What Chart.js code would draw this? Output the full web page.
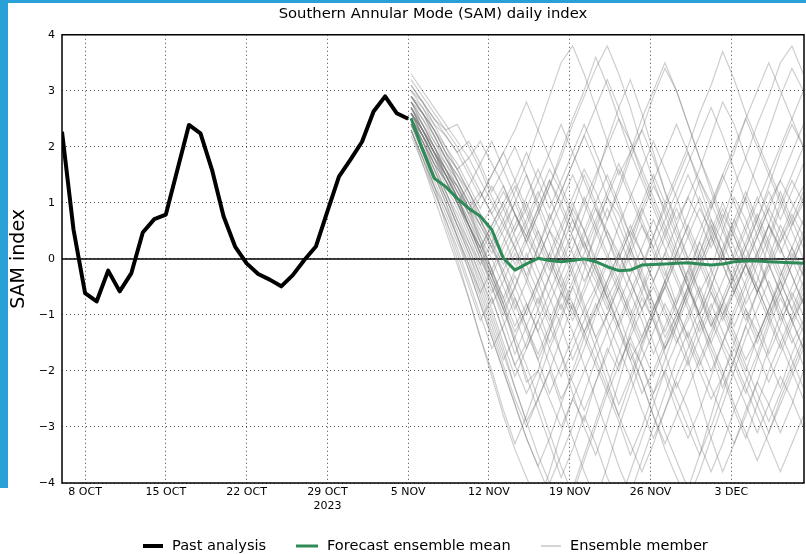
<!DOCTYPE html>
<html>
<head>
<meta charset="utf-8">
<title>SAM daily index</title>
<script src="https://cdn.jsdelivr.net/npm/chart.js@4.4.0/dist/chart.umd.min.js"></script>
<style>
    body { margin: 0; background: #fff; }
    canvas { display: block; }
</style>
</head>
<body>
<canvas id="sam-chart" width="806" height="554"></canvas>
<script>
// x values are days since 6 Oct 2023
const tickDays = [2, 9, 16, 23, 30, 37, 44, 51, 58];
const tickLabels = ['8 OCT', '15 OCT', '22 OCT', ['29 OCT', '2023'], '5 NOV', '12 NOV', '19 NOV', '26 NOV', '3 DEC'];

const pastStart = 0;
const pastValues = [2.27, 0.52, -0.61, -0.76, -0.21, -0.58, -0.26, 0.47, 0.71, 0.79, 1.59, 2.39, 2.24, 1.59, 0.76, 0.22,
    -0.08, -0.27, -0.37, -0.49, -0.29, -0.02, 0.22, 0.85, 1.47, 1.77, 2.09, 2.63, 2.9, 2.6, 2.5];

const forecastStart = 30.25;
const meanValues = [2.51, 1.95, 1.44, 1.29, 1.08, 0.9, 0.76, 0.52, 0.01, -0.2, -0.09, 0.01, -0.03, -0.05, -0.03, 0.0,
    -0.05, -0.14, -0.21, -0.2, -0.11, -0.1, -0.09, -0.08, -0.07, -0.09, -0.11, -0.09, -0.05, -0.04, -0.04, -0.05,
    -0.06, -0.07, -0.08];

const ensembleMembers = [
    [2.6, 2.3, 2.0, 1.6, 1.2, 0.9, 0.4, -0.2, -0.8, -1.5, -2.2, -2.0, -1.3, -0.6, -0.9, -0.2, 0.5, 1.1, 0.8, 0.2, -0.4, -1.0, -1.6, -1.2, -0.5, 0.1, 0.7, 0.3, -0.2, -0.8, -0.4, 0.3, 0.9, 1.4, 1.0],
    [2.9, 2.7, 2.4, 2.2, 1.9, 2.1, 1.7, 1.2, 1.6, 2.0, 1.5, 0.9, 0.3, -0.3, 0.2, 0.8, 1.4, 2.1, 2.7, 3.2, 2.6, 1.9, 1.2, 0.6, 0.0, -0.6, -0.2, 0.5, 1.1, 0.7, 0.1, -0.5, -1.1, -0.7, -0.2],
    [2.4, 1.9, 1.3, 0.6, 0.0, -0.7, -1.4, -2.1, -2.8, -3.4, -3.9, -4.4, -3.8, -3.1, -2.5, -2.9, -2.2, -1.6, -2.0, -1.3, -0.7, -1.1, -1.7, -2.3, -1.8, -1.2, -0.6, -1.0, -1.5, -2.0, -1.4, -0.9, -0.3, 0.2, -0.2],
    [3.1, 2.8, 2.5, 2.3, 2.4, 2.0, 1.6, 1.1, 0.7, 1.2, 1.7, 2.3, 2.9, 3.5, 3.8, 3.3, 2.7, 2.1, 1.5, 1.9, 2.3, 1.8, 1.2, 0.7, 1.1, 1.6, 2.2, 2.8, 2.4, 1.8, 1.3, 0.8, 0.3, 0.7, 1.2],
    [2.5, 2.1, 1.7, 1.4, 1.0, 0.6, 0.2, -0.3, -0.9, -0.5, 0.1, -0.4, -1.0, -1.7, -2.4, -3.0, -3.5, -2.9, -2.2, -1.5, -1.9, -2.5, -3.1, -3.6, -4.1, -3.5, -2.8, -2.1, -1.5, -0.9, -1.3, -1.8, -2.3, -1.7, -1.2],
    [2.7, 2.4, 2.1, 1.8, 1.5, 1.2, 0.8, 0.5, 0.9, 1.3, 0.8, 0.3, -0.2, 0.3, 0.9, 0.5, -0.1, -0.7, -0.3, 0.2, 0.8, 1.3, 0.9, 0.4, -0.1, -0.6, -1.2, -0.8, -0.3, 0.2, 0.7, 1.3, 1.9, 2.4, 2.0],
    [2.3, 1.8, 1.2, 0.7, 0.1, -0.5, -1.1, -0.7, -1.3, -1.9, -1.5, -0.9, -0.3, 0.3, -0.2, -0.8, -1.4, -1.0, -0.5, 0.1, 0.6, 0.2, -0.3, 0.3, 0.8, 1.4, 1.0, 0.5, 0.0, -0.5, -1.1, -1.7, -1.2, -0.6, -1.0],
    [2.8, 2.6, 2.3, 1.9, 1.6, 1.8, 2.1, 1.7, 1.3, 0.8, 0.3, 0.8, 1.3, 1.9, 2.5, 3.0, 3.6, 3.1, 2.5, 1.9, 1.4, 0.9, 0.4, -0.1, 0.4, 0.9, 0.5, 0.0, 0.5, 1.1, 1.7, 2.3, 2.9, 3.4, 3.0],
    [2.5, 2.0, 1.5, 1.1, 0.6, 0.1, -0.4, -1.0, -1.6, -2.3, -2.9, -2.5, -2.0, -2.6, -3.2, -3.8, -4.3, -3.7, -3.0, -2.4, -1.8, -1.3, -0.8, -1.2, -1.8, -2.5, -3.2, -3.8, -3.3, -2.7, -2.2, -2.6, -3.1, -2.6, -2.0],
    [2.6, 2.2, 1.8, 1.5, 1.3, 0.9, 0.6, 0.9, 1.3, 0.8, 0.4, 0.0, 0.5, 0.2, -0.3, -0.9, -0.5, 0.0, 0.6, 1.1, 1.6, 2.1, 1.6, 1.1, 0.5, 0.0, -0.5, -1.0, -0.6, -0.1, -0.5, -1.0, -0.6, -0.1, 0.4],
    [3.0, 2.7, 2.3, 1.9, 1.4, 0.9, 0.3, -0.3, 0.2, 0.6, 1.1, 1.6, 1.1, 0.6, 0.1, -0.4, 0.0, 0.5, 0.1, -0.4, -0.9, -1.5, -2.1, -2.7, -3.2, -2.7, -2.1, -1.5, -1.9, -2.4, -1.8, -1.2, -0.7, -1.1, -1.6],
    [2.4, 2.0, 1.5, 1.0, 0.5, 0.0, -0.6, -1.2, -1.8, -1.4, -0.9, -0.4, 0.1, 0.6, 1.1, 1.6, 1.2, 0.7, 1.2, 1.8, 2.3, 2.9, 3.4, 3.0, 2.4, 1.8, 1.3, 0.7, 0.2, -0.3, 0.1, 0.6, 0.2, -0.3, -0.8],
    [2.7, 2.3, 1.9, 1.5, 1.1, 0.7, 0.3, -0.2, -0.7, -1.2, -0.8, -1.3, -1.9, -2.5, -2.1, -1.6, -1.0, -0.5, -1.0, -1.6, -2.2, -2.8, -3.4, -3.9, -4.3, -3.8, -3.2, -2.6, -2.0, -1.4, -0.9, -0.4, -0.9, -1.4, -1.9],
    [2.9, 2.6, 2.3, 2.0, 1.7, 1.3, 0.9, 1.3, 0.9, 0.4, -0.1, -0.6, -1.1, -0.6, -0.1, 0.4, 0.9, 0.5, 0.0, 0.5, 0.1, -0.4, 0.1, 0.6, 1.1, 0.7, 0.2, 0.7, 1.3, 1.8, 2.4, 2.9, 3.5, 3.8, 3.3],
    [2.5, 2.1, 1.6, 1.1, 0.6, 0.2, -0.3, -0.8, -0.4, 0.1, -0.4, -0.9, -1.5, -1.0, -0.5, -1.0, -1.6, -2.2, -2.8, -3.3, -3.8, -3.3, -2.7, -2.1, -1.6, -1.1, -1.6, -2.1, -2.7, -3.2, -2.6, -2.0, -1.5, -1.0, -0.5],
    [2.6, 2.2, 1.9, 1.6, 1.2, 0.8, 1.1, 1.5, 1.9, 2.3, 2.8, 2.3, 1.8, 1.3, 0.8, 0.3, -0.2, -0.7, -1.2, -0.7, -0.2, 0.4, 1.0, 1.5, 2.0, 2.6, 3.1, 3.7, 3.2, 2.6, 2.1, 1.6, 1.1, 0.6, 1.0],
    [2.3, 1.7, 1.1, 0.5, -0.1, -0.7, -1.4, -2.0, -2.7, -3.3, -2.8, -2.2, -1.6, -1.1, -0.5, 0.0, -0.4, -0.9, -0.4, 0.2, -0.3, -0.8, -1.3, -0.8, -0.2, 0.3, -0.2, -0.7, -1.2, -0.7, -0.1, 0.4, 1.0, 0.5, 0.0],
    [2.8, 2.5, 2.2, 1.8, 1.5, 1.1, 0.7, 0.3, -0.1, 0.3, 0.7, 1.2, 0.7, 1.2, 1.7, 2.2, 1.7, 1.1, 0.6, 0.1, -0.4, -0.9, -0.5, 0.0, -0.5, -1.0, -1.5, -2.0, -2.6, -3.1, -3.6, -3.1, -2.5, -2.0, -1.5],
    [2.6, 2.3, 1.9, 1.4, 1.0, 0.5, 0.0, -0.4, -0.9, -1.4, -1.9, -2.5, -3.1, -3.7, -4.2, -3.6, -3.0, -2.4, -2.9, -3.5, -3.0, -2.4, -1.8, -1.2, -0.7, -0.2, 0.3, 0.8, 0.4, -0.1, -0.6, -0.2, 0.3, 0.8, 0.4],
    [3.2, 2.9, 2.6, 2.3, 2.0, 1.6, 1.2, 0.8, 1.2, 0.8, 0.4, 0.9, 1.4, 1.0, 0.5, 1.0, 1.5, 2.0, 2.5, 2.1, 1.6, 1.1, 0.6, 0.1, -0.4, 0.1, 0.6, 0.1, -0.4, -0.9, -1.4, -0.9, -0.4, 0.1, -0.3],
    [2.4, 1.9, 1.4, 0.9, 0.4, -0.1, -0.6, -0.2, 0.3, 0.8, 0.3, -0.2, -0.7, -1.2, -1.8, -1.3, -0.8, -1.3, -1.9, -1.4, -0.9, -0.4, 0.1, -0.4, -0.9, -1.5, -2.0, -1.5, -0.9, -0.4, 0.1, 0.6, 0.2, -0.3, -0.8],
    [2.7, 2.4, 2.0, 1.6, 1.2, 0.8, 0.4, 0.0, -0.5, -1.0, -1.6, -1.1, -0.6, -0.1, 0.4, -0.1, -0.6, -1.1, -1.6, -2.1, -2.7, -3.2, -2.7, -2.2, -2.7, -3.3, -3.8, -3.3, -2.7, -2.2, -1.7, -1.1, -0.6, -0.1, 0.4],
    [2.5, 2.2, 1.8, 1.5, 1.1, 0.7, 0.2, 0.6, 1.0, 0.5, 0.9, 1.4, 1.9, 2.4, 1.9, 1.4, 0.9, 0.4, -0.1, -0.6, -0.1, 0.4, 0.9, 1.4, 1.9, 1.4, 0.9, 1.4, 1.9, 2.5, 2.0, 1.5, 1.0, 1.5, 2.0],
    [2.8, 2.4, 2.0, 1.6, 1.1, 0.6, 0.1, -0.5, -1.1, -1.7, -1.2, -0.7, -1.2, -1.7, -2.2, -2.7, -2.2, -1.7, -1.1, -0.6, -1.1, -1.7, -1.2, -0.7, -0.2, -0.7, -1.2, -0.7, -0.2, 0.3, 0.8, 0.3, -0.2, -0.7, -1.2],
    [2.6, 2.2, 1.8, 1.4, 1.0, 1.3, 1.7, 2.1, 1.6, 1.1, 0.6, 0.1, -0.4, -0.9, -0.4, 0.1, 0.6, 0.1, -0.4, -0.9, -1.4, -0.9, -0.4, -0.9, -1.4, -0.9, -0.3, 0.2, 0.7, 0.2, -0.3, -0.8, -1.3, -1.8, -2.3],
    [2.3, 1.8, 1.3, 0.8, 0.3, -0.2, -0.8, -1.4, -2.0, -2.6, -3.2, -3.7, -3.2, -2.6, -2.0, -1.4, -0.9, -0.4, 0.1, -0.4, -0.9, -0.5, -1.0, -1.5, -1.1, -0.6, -1.1, -1.6, -2.1, -2.6, -3.1, -2.6, -2.1, -2.5, -3.0],
    [3.3, 3.0, 2.7, 2.4, 2.1, 1.8, 1.4, 1.0, 0.6, 0.2, 0.6, 1.1, 1.6, 1.2, 0.7, 0.2, -0.3, -0.8, -1.3, -1.8, -1.4, -0.9, -0.4, 0.1, 0.6, 1.1, 0.6, 0.1, -0.4, 0.0, 0.5, 1.0, 1.4, 1.0, 0.6],
    [2.5, 2.1, 1.7, 1.2, 0.8, 0.3, -0.1, -0.6, -0.2, -0.7, -1.2, -1.8, -2.4, -1.9, -1.4, -0.9, -1.4, -2.0, -2.6, -2.1, -1.5, -1.0, -0.5, -1.0, -1.5, -2.0, -2.5, -2.1, -1.6, -2.1, -2.6, -3.1, -2.6, -2.1, -1.6],
    [2.7, 2.3, 1.9, 1.6, 1.3, 0.9, 0.5, 0.1, 0.5, 1.0, 1.5, 1.0, 0.5, 0.0, 0.5, 1.1, 0.6, 1.1, 1.6, 1.1, 0.6, 0.1, -0.4, -0.9, -1.4, -1.9, -1.4, -0.8, -0.3, 0.2, 0.7, 1.2, 0.7, 1.2, 1.7],
    [2.4, 2.0, 1.5, 1.0, 0.4, -0.2, -0.8, -1.4, -2.0, -2.6, -3.2, -3.7, -4.2, -4.6, -4.1, -3.5, -2.9, -2.3, -1.7, -1.1, -0.6, -1.1, -1.6, -1.1, -0.6, -0.1, 0.4, -0.1, -0.6, -1.1, -0.6, -0.1, -0.6, -1.1, -0.7],
    [2.9, 2.6, 2.2, 1.8, 1.4, 1.0, 0.6, 0.2, -0.2, 0.2, -0.3, 0.2, 0.7, 1.2, 1.7, 2.2, 2.7, 3.2, 2.7, 2.1, 1.5, 1.0, 0.5, 1.0, 1.5, 1.0, 0.4, -0.1, -0.6, -0.1, 0.4, 0.9, 1.4, 1.9, 2.4],
    [2.6, 2.3, 1.9, 1.5, 1.1, 0.6, 0.1, -0.3, -0.8, -1.3, -0.9, -0.4, 0.1, -0.4, -0.9, -1.4, -1.9, -2.4, -1.9, -1.4, -1.9, -2.4, -2.0, -1.5, -1.0, -0.5, -1.0, -1.5, -1.0, -0.5, 0.0, -0.5, -1.0, -1.5, -1.1],
    [2.5, 2.2, 1.8, 1.3, 0.9, 0.4, -0.1, 0.3, -0.3, -0.9, -0.4, 0.2, 0.8, 0.3, 0.9, 1.5, 1.0, 0.4, -0.2, 0.3, 0.9, 0.4, -0.2, -0.8, -0.3, 0.3, 0.9, 1.5, 1.0, 0.5, 0.0, 0.6, 1.2, 0.7, 0.2],
    [2.8, 2.5, 2.1, 1.7, 1.3, 0.8, 0.3, -0.2, -0.7, -0.2, 0.3, 0.8, 1.3, 1.8, 2.4, 2.9, 3.4, 3.8, 3.3, 2.7, 2.0, 1.4, 0.8, 0.2, -0.4, -1.0, -0.5, 0.1, 0.7, 1.2, 0.7, 0.2, -0.3, 0.2, 0.7],
    [2.2, 1.7, 1.2, 0.7, 0.2, -0.4, -1.0, -1.6, -1.2, -0.7, -1.2, -1.7, -1.2, -0.7, -0.2, 0.3, -0.2, -0.7, -1.2, -1.7, -2.2, -2.8, -3.3, -2.8, -2.3, -1.8, -1.3, -0.8, -1.3, -1.8, -1.4, -0.9, -0.4, -0.9, -1.3],
    [2.6, 2.3, 2.0, 1.7, 1.4, 1.0, 0.7, 0.3, 0.7, 0.2, -0.3, -0.8, -0.3, 0.2, 0.7, 0.2, 0.7, 1.2, 1.7, 1.2, 0.7, 0.2, 0.7, 1.2, 1.7, 2.2, 2.7, 2.2, 1.6, 1.0, 0.4, -0.1, 0.4, 0.9, 1.3],
    [2.4, 2.0, 1.6, 1.1, 0.6, 0.1, -0.5, -1.1, -1.7, -2.3, -2.9, -3.5, -4.0, -3.5, -3.0, -2.4, -1.8, -2.3, -2.8, -2.2, -1.6, -1.0, -0.5, 0.0, -0.5, -1.0, -0.5, 0.1, 0.6, 1.1, 0.6, 0.1, -0.4, -0.9, -0.4],
    [3.0, 2.8, 2.5, 2.2, 1.9, 1.5, 1.1, 1.5, 1.9, 1.4, 0.9, 0.4, -0.1, -0.6, -1.1, -0.6, -0.1, -0.6, -1.2, -1.8, -2.4, -2.0, -1.5, -1.0, -0.5, 0.0, 0.5, 1.0, 0.5, 0.0, -0.5, -1.0, -1.5, -2.0, -2.5],
    [2.7, 2.3, 1.9, 1.5, 1.0, 0.5, 0.0, -0.5, -1.0, -0.5, 0.0, 0.5, 0.0, -0.5, -1.0, -0.5, 0.1, 0.7, 1.3, 1.9, 2.5, 3.0, 3.5, 3.0, 2.4, 1.8, 1.2, 0.6, 0.0, 0.5, 1.0, 1.5, 2.0, 2.5, 3.0],
    [2.5, 2.1, 1.6, 1.2, 0.7, 0.3, -0.2, -0.7, -1.3, -1.9, -2.4, -2.0, -2.5, -3.0, -2.5, -2.0, -1.5, -1.0, -0.5, -1.0, -1.5, -1.0, -0.4, 0.1, 0.6, 0.1, -0.4, -0.9, -1.4, -1.9, -2.4, -2.9, -2.4, -1.9, -1.4],
    [2.9, 2.6, 2.3, 1.9, 1.6, 1.2, 0.8, 0.4, 0.0, 0.5, 1.0, 0.5, 0.0, -0.5, 0.0, 0.5, 1.0, 1.5, 1.0, 0.4, -0.2, -0.8, -1.4, -1.0, -0.5, -1.1, -1.7, -2.3, -1.8, -1.2, -0.6, 0.0, 0.6, 0.2, -0.3],
    [2.3, 1.8, 1.3, 0.9, 0.4, -0.1, -0.7, -1.3, -1.9, -2.5, -3.0, -2.5, -2.0, -1.4, -0.8, -1.3, -1.8, -1.3, -0.8, -0.3, 0.2, 0.7, 0.2, -0.3, -0.8, -1.3, -0.8, -1.3, -1.8, -2.3, -2.8, -3.3, -3.8, -3.3, -2.8],
    [2.6, 2.3, 1.9, 1.6, 1.3, 0.9, 1.2, 0.8, 0.4, -0.1, 0.4, 0.9, 1.4, 0.9, 0.4, -0.1, 0.4, 0.9, 0.4, -0.1, -0.6, -0.1, 0.4, 0.9, 0.4, -0.1, -0.6, -1.1, -0.6, -0.1, -0.6, -1.1, -1.6, -1.1, -0.6],
    [2.8, 2.4, 2.0, 1.5, 1.1, 0.6, 0.1, -0.4, -0.9, -1.5, -2.1, -2.7, -3.3, -3.9, -3.4, -2.8, -3.3, -3.9, -4.4, -3.8, -3.2, -2.6, -2.0, -2.5, -3.0, -3.5, -3.0, -2.4, -1.8, -1.2, -1.7, -2.2, -1.7, -1.2, -0.7],
    [2.4, 2.1, 1.7, 1.4, 1.0, 0.6, 0.2, 0.6, 1.0, 1.4, 1.9, 1.4, 0.9, 1.4, 1.9, 2.4, 1.9, 1.4, 0.9, 0.4, 0.9, 1.4, 1.9, 2.4, 1.9, 1.3, 0.7, 0.1, -0.5, -0.1, 0.4, 0.9, 0.5, 0.0, -0.5],
    [2.7, 2.3, 1.9, 1.5, 1.1, 0.6, 0.2, -0.3, -0.8, -0.3, -0.8, -1.3, -0.8, -0.3, -0.8, -1.3, -0.9, -0.4, 0.1, 0.6, 0.1, -0.4, -0.9, -1.4, -1.9, -1.4, -0.9, -0.4, 0.1, 0.6, 1.1, 0.6, 0.1, 0.6, 1.1],
    [3.1, 2.8, 2.4, 2.0, 1.6, 1.2, 0.7, 0.2, -0.3, -0.8, -1.3, -1.8, -1.3, -0.8, -1.3, -1.9, -2.5, -3.1, -3.7, -4.2, -3.6, -3.0, -2.4, -1.8, -1.3, -1.8, -2.3, -2.8, -3.3, -2.8, -2.2, -1.6, -1.0, -0.5, 0.0],
    [2.5, 2.2, 1.8, 1.4, 1.0, 0.6, 0.1, 0.5, 0.0, -0.5, -1.0, -0.5, 0.0, 0.5, 1.0, 0.5, 0.0, -0.5, 0.0, 0.5, 1.0, 1.5, 1.0, 0.5, 0.0, 0.5, 1.0, 1.5, 2.0, 2.5, 3.0, 3.5, 3.0, 2.5, 2.0],
    [2.6, 2.2, 1.7, 1.2, 0.7, 0.2, -0.3, -0.9, -1.5, -2.1, -1.6, -1.1, -1.6, -2.1, -1.6, -1.1, -0.6, -0.1, -0.6, -1.1, -1.6, -2.1, -1.6, -1.1, -0.6, -0.1, 0.4, 0.9, 0.4, -0.1, -0.6, -0.1, -0.6, -1.1, -1.6],
    [2.9, 2.6, 2.2, 1.8, 1.4, 1.0, 0.6, 0.2, 0.6, 1.0, 0.5, 0.0, 0.5, 1.0, 1.5, 1.0, 0.5, 0.0, -0.5, -1.0, -0.5, 0.0, 0.5, 0.0, -0.5, -1.0, -1.5, -1.0, -0.5, -1.0, -1.5, -1.0, -0.5, 0.0, 0.5]
];

const FONT = "'DejaVu Sans', sans-serif";
const toPoints = (start, values) => values.map((v, i) => ({ x: start + i, y: v }));

// blue frame, zero line, plot border and legend, drawn around the chart
const decorations = {
    id: 'decorations',
    beforeDraw(chart) {
        const ctx = chart.ctx;
        ctx.save();
        ctx.fillStyle = '#fff';
        ctx.fillRect(0, 0, chart.width, chart.height);
        ctx.fillStyle = '#29a0d8';
        ctx.fillRect(0, 0, chart.width, 3);
        ctx.fillRect(0, 0, 8, 488);
        ctx.restore();
    },
    beforeDatasetsDraw(chart) {
        const ctx = chart.ctx;
        const area = chart.chartArea;
        const y0 = chart.scales.y.getPixelForValue(0);
        ctx.save();
        ctx.strokeStyle = '#000';
        ctx.lineWidth = 1.5;
        ctx.beginPath();
        ctx.moveTo(area.left, y0);
        ctx.lineTo(area.right, y0);
        ctx.stroke();
        ctx.restore();
    },
    afterDraw(chart) {
        const ctx = chart.ctx;
        const area = chart.chartArea;
        ctx.save();
        ctx.strokeStyle = '#000';
        ctx.lineWidth = 1.5;
        ctx.strokeRect(area.left, area.top, area.right - area.left, area.bottom - area.top);

        const items = [
            { x: 143, w: 20, color: '#000', width: 4, text: 'Past analysis' },
            { x: 296, w: 22, color: '#2e8b57', width: 3, text: 'Forecast ensemble mean' },
            { x: 541, w: 20, color: '#aaaaaa', width: 1, text: 'Ensemble member' }
        ];
        const y = 546;
        ctx.font = `14.6px ${FONT}`;
        ctx.textBaseline = 'middle';
        items.forEach(item => {
            ctx.strokeStyle = item.color;
            ctx.lineWidth = item.width;
            ctx.beginPath();
            ctx.moveTo(item.x, y);
            ctx.lineTo(item.x + item.w, y);
            ctx.stroke();
            ctx.fillStyle = '#000';
            ctx.fillText(item.text, item.x + item.w + 9, y + 0.5);
        });
        ctx.restore();
    }
};

const datasets = [
    {
        label: 'Past analysis',
        data: toPoints(pastStart, pastValues),
        borderColor: '#000',
        borderWidth: 4,
        borderJoinStyle: 'round'
    },
    {
        label: 'Forecast ensemble mean',
        data: toPoints(forecastStart, meanValues),
        borderColor: '#2e8b57',
        borderWidth: 3,
        borderJoinStyle: 'round'
    }
];
ensembleMembers.forEach((member, i) => {
    datasets.push({
        label: 'Ensemble member ' + (i + 1),
        data: toPoints(forecastStart, member),
        borderColor: 'rgba(120, 120, 120, 0.36)',
        borderWidth: 1.2
    });
});

const ctx = document.getElementById('sam-chart').getContext('2d');
new Chart(ctx, {
    type: 'line',
    data: { datasets: datasets },
    options: {
        responsive: false,
        devicePixelRatio: 1,
        animation: false,
        layout: { padding: { left: 0, right: 2, top: 0, bottom: 0 } },
        elements: {
            point: { radius: 0, hoverRadius: 0 },
            line: { tension: 0, fill: false }
        },
        scales: {
            x: {
                type: 'linear',
                min: 0,
                max: 64.3,
                afterBuildTicks: (scale) => {
                    scale.ticks = tickDays.map(d => ({ value: d }));
                },
                afterFit: (scale) => { scale.height = 71; },
                ticks: {
                    autoSkip: false,
                    maxRotation: 0,
                    padding: 3,
                    color: '#000',
                    font: { family: FONT, size: 11 },
                    callback: (value) => tickLabels[tickDays.indexOf(value)]
                },
                grid: { color: 'rgba(0, 0, 0, 0.7)', lineWidth: 1, drawTicks: false },
                border: { display: false, dash: [1, 3] }
            },
            y: {
                min: -4,
                max: 4,
                afterFit: (scale) => { scale.width = 62; },
                ticks: {
                    stepSize: 1,
                    padding: 7,
                    color: '#000',
                    font: { family: FONT, size: 11 },
                    callback: (value) => value < 0 ? '\u2212' + Math.abs(value) : String(value)
                },
                grid: { color: 'rgba(0, 0, 0, 0.7)', lineWidth: 1, drawTicks: false },
                border: { display: false, dash: [1, 3] },
                title: {
                    display: true,
                    text: 'SAM index',
                    color: '#000',
                    font: { family: FONT, size: 19 },
                    padding: { top: 8, bottom: 0 }
                }
            }
        },
        plugins: {
            legend: { display: false },
            tooltip: { enabled: false },
            title: {
                display: true,
                text: 'Southern Annular Mode (SAM) daily index',
                fullSize: false,
                color: '#000',
                font: { family: FONT, size: 14.8, weight: 'normal' },
                padding: { top: 5, bottom: 12 }
            }
        }
    },
    plugins: [decorations]
});
</script>
</body>
</html>
